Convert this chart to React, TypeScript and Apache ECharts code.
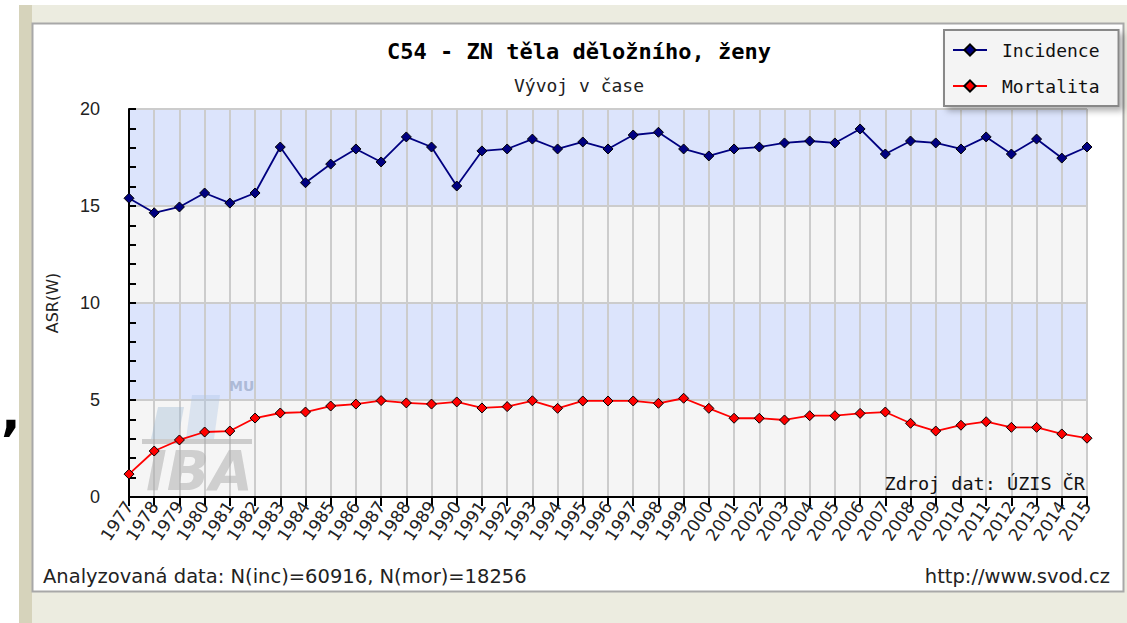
import React, { useEffect, useRef } from 'react';
import * as echarts from 'echarts';

const years = ['1977','1978','1979','1980','1981','1982','1983','1984','1985','1986','1987','1988','1989','1990','1991','1992','1993','1994','1995','1996','1997','1998','1999','2000','2001','2002','2003','2004','2005','2006','2007','2008','2009','2010','2011','2012','2013','2014','2015'];
const incidence = [15.4,14.65,14.95,15.67,15.15,15.67,18.04,16.2,17.16,17.94,17.27,18.56,18.04,16.03,17.84,17.94,18.45,17.94,18.3,17.94,18.66,18.8,17.94,17.58,17.94,18.04,18.25,18.35,18.25,18.97,17.68,18.35,18.25,17.94,18.56,17.68,18.45,17.47,18.04];
const mortalita = [1.18,2.37,2.94,3.35,3.4,4.07,4.33,4.38,4.69,4.79,4.97,4.85,4.79,4.9,4.59,4.66,4.96,4.57,4.95,4.95,4.95,4.83,5.09,4.57,4.06,4.06,3.97,4.19,4.19,4.31,4.38,3.8,3.4,3.7,3.88,3.59,3.59,3.25,3.03];
const seriesNames = ['Incidence', 'Mortalita'];
const titleText = 'C54 - ZN těla děložního, ženy';
const subtitleText = 'Vývoj v čase';
const yName = 'ASR(W)';
const footLeft = 'Analyzovaná data: N(inc)=60916, N(mor)=18256';
const footRight = 'http://www.svod.cz';
const sourceText = 'Zdroj dat: ÚZIS ČR';

export default function App() {
  const ref = useRef<HTMLDivElement>(null);
  useEffect(() => {
    if (!ref.current) return;
    const chart = echarts.init(ref.current, undefined, { renderer: 'svg' });
    const mono = 'DejaVu Sans Mono';
    const sans = 'DejaVu Sans';
    chart.setOption({
      animation: false,
      backgroundColor: '#ECECE0',
      title: [
        { text: titleText, left: 579, top: 40, textAlign: 'center', padding: 0,
          textStyle: { fontFamily: mono, fontSize: 22, fontWeight: 'bold', color: '#000' } },
        { text: subtitleText, left: 579, top: 76, textAlign: 'center', padding: 0,
          textStyle: { fontFamily: mono, fontSize: 18, fontWeight: 'normal', color: '#222' } },
      ],
      legend: {
        data: seriesNames,
        orient: 'vertical',
        left: 944,
        top: 30,
        padding: [10, 19, 10, 8],
        itemGap: 16,
        itemWidth: 34,
        itemHeight: 14,
        backgroundColor: '#F4F4F4',
        borderColor: '#888',
        borderWidth: 2,
        borderRadius: 0,
        shadowBlur: 6,
        shadowColor: 'rgba(0,0,0,0.3)',
        shadowOffsetX: 4,
        shadowOffsetY: 4,
        textStyle: { fontFamily: mono, fontSize: 18, color: '#111', lineHeight: 20, padding: [0, 0, 0, 10] },
      },
      grid: { left: 129, right: 40, top: 109, bottom: 126, containLabel: false },
      xAxis: {
        type: 'category',
        data: years,
        boundaryGap: false,
        axisLine: { show: true, lineStyle: { color: '#000', width: 2 } },
        axisTick: { show: true, interval: 0, length: 9, lineStyle: { color: '#000', width: 2 } },
        axisLabel: { interval: 0, rotate: 56, margin: 6, fontFamily: sans, fontSize: 17, color: '#222' },
        splitLine: { show: true, interval: 0, lineStyle: { color: '#CCCCCC', width: 2 } },
      },
      yAxis: {
        type: 'value',
        min: 0,
        max: 20,
        interval: 5,
        name: yName,
        nameLocation: 'middle',
        nameRotate: 90,
        nameGap: 69,
        nameTextStyle: { fontFamily: sans, fontSize: 16, color: '#222' },
        axisLine: { show: true, lineStyle: { color: '#000', width: 2 } },
        axisTick: { show: true, inside: true, length: 7, lineStyle: { color: '#000', width: 2 } },
        minorTick: { show: true, splitNumber: 5, length: 7, lineStyle: { color: '#000', width: 2 } },
        axisLabel: { margin: 29, fontFamily: 'Liberation Sans', fontSize: 18, color: '#222' },
        splitLine: { show: true, lineStyle: { color: '#CCCCCC', width: 2 } },
        splitArea: { show: true, areaStyle: { color: ['#F5F5F5', '#DCE4FC'] } },
      },
      graphic: [
        { type: 'rect', z: -10, shape: { x: 0, y: 0, width: 19, height: 623 }, style: { fill: '#FFFFFF' } },
        { type: 'rect', z: -10, shape: { x: 0, y: 0, width: 1127, height: 5 }, style: { fill: '#FFFFFF' } },
        { type: 'rect', z: -10, shape: { x: 19, y: 5, width: 13, height: 618 }, style: { fill: '#D6D3BB' } },
        { type: 'rect', z: -9, shape: { x: 32.5, y: 23.5, width: 1091, height: 568 }, style: { fill: '#FFFFFF', stroke: '#A8A8A8', lineWidth: 2 } },
        { type: 'text', z: 5, x: 1, y: 386, style: { text: ',', fontSize: 52, fontWeight: 'bold', fontFamily: sans, fill: '#000' } },
        // watermark
        { type: 'polygon', z: 1, shape: { points: [[158, 407], [184, 407], [178, 439], [151, 439]] }, style: { fill: 'rgba(150,180,210,0.35)' } },
        { type: 'polygon', z: 1, shape: { points: [[192, 395], [220, 395], [214, 439], [186, 439]] }, style: { fill: 'rgba(170,195,230,0.35)' } },
        { type: 'rect', z: 1, shape: { x: 142, y: 439, width: 110, height: 5 }, style: { fill: 'rgba(170,170,170,0.55)' } },
        { type: 'text', z: 1, x: 229, y: 379, style: { text: 'MU', fontSize: 14, fontWeight: 'bold', fontFamily: sans, fill: 'rgba(160,175,205,0.8)' } },
        { type: 'text', z: 1, x: 146, y: 442, style: { text: 'IBA', fontSize: 56, fontWeight: 'bold', fontStyle: 'italic', fontFamily: sans, fill: 'rgba(175,175,175,0.55)' } },
        // texts
        { type: 'text', z: 5, x: 1085, y: 483, style: { text: sourceText, fontFamily: mono, fontSize: 18.5, fill: '#111', align: 'right', verticalAlign: 'middle' } },
        { type: 'text', z: 5, x: 43, y: 576, style: { text: footLeft, fontFamily: sans, fontSize: 19.5, fill: '#222', align: 'left', verticalAlign: 'middle' } },
        { type: 'text', z: 5, x: 1110, y: 576, style: { text: footRight, fontFamily: sans, fontSize: 19.5, fill: '#222', align: 'right', verticalAlign: 'middle' } },
      ],
      series: [
        {
          name: seriesNames[0], type: 'line', data: incidence, z: 3,
          symbol: 'diamond', symbolSize: 10,
          lineStyle: { color: '#000080', width: 1.8 },
          itemStyle: { color: '#000080', borderColor: '#000', borderWidth: 1 },
        },
        {
          name: seriesNames[1], type: 'line', data: mortalita, z: 3,
          symbol: 'diamond', symbolSize: 10,
          lineStyle: { color: '#FF0000', width: 1.8 },
          itemStyle: { color: '#FF0000', borderColor: '#000', borderWidth: 1 },
        },
      ],
    });
    return () => chart.dispose();
  }, []);
  return <div ref={ref} style={{ position: 'fixed', left: 0, top: 0, width: 1127, height: 623 }} />;
}
